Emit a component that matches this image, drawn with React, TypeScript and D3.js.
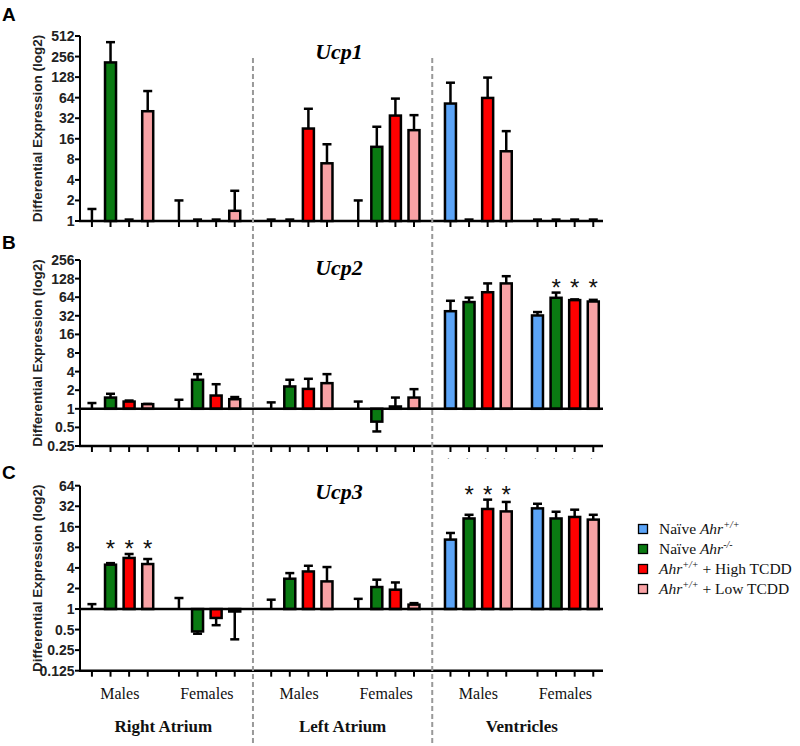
import React from "react";
import * as d3 from "d3";

const regions = ["Right Atrium", "Left Atrium", "Ventricles"];
const sexes = ["Males", "Females"];
const groupKeys = ["naiveWT", "naiveKO", "highTCDD", "lowTCDD"];
const groupColors = ["#5ba4f7", "#0a7a12", "#ff0000", "#f9a2a5"];

// order: RA-M(4), RA-F(4), LA-M(4), LA-F(4), V-M(4), V-F(4)
const ucp1Mean = [1, 210, 1, 40.5, 1, 1, 1, 1.41, 1, 1, 22.6, 7, 1, 12.2, 35, 21.4, 52.5, 1, 63.4, 10.5, 1, 1, 1, 1];
const ucp1Err = [1.5, 416, 1.05, 80, 2.0, 1.05, 1.05, 2.77, 1.05, 1.05, 44, 13.3, 2, 24, 62, 35.5, 106, 1.05, 126, 20.7, 1.05, 1.05, 1.05, 1.05];
const ucp1Stars: number[] = [];
const ucp1Ticks = [1, 2, 4, 8, 16, 32, 64, 128, 256, 512];

const ucp2Mean = [1, 1.52, 1.31, 1.19, 1, 2.95, 1.64, 1.43, 1, 2.3, 2.1, 2.6, 1, 0.62, 1.09, 1.52, 38, 53.4, 77, 107, 32.4, 62.6, 57.4, 54.5];
const ucp2Err = [1.24, 1.75, 1.36, 1.2, 1.4, 3.64, 2.5, 1.55, 1.27, 2.95, 3.06, 3.64, 1.31, 0.43, 1.52, 2.08, 56, 63, 107, 140, 36.8, 76, 59, 58];
const ucp2Stars = [21, 22, 23];
const ucp2Ticks = [0.25, 0.5, 1, 2, 4, 8, 16, 32, 64, 128, 256];

const ucp3Mean = [1, 4.46, 5.6, 4.56, 1, 0.47, 0.74, 0.92, 1, 2.78, 3.55, 2.54, 1, 2.1, 1.92, 1.16, 10.4, 21.2, 29.2, 26.9, 29.8, 21.2, 22.3, 20.4];
const ucp3Err = [1.18, 4.7, 6.4, 5.4, 1.45, 0.435, 0.58, 0.36, 1.37, 3.36, 4.3, 4.12, 1.41, 2.69, 2.45, 1.22, 13, 24, 40, 37, 34.8, 26.6, 28.5, 24];
const ucp3Stars = [1, 2, 3, 17, 18, 19];
const ucp3Ticks = [0.125, 0.25, 0.5, 1, 2, 4, 8, 16, 32, 64];

const legendItems = [
  { pre: "Naïve ", gene: "Ahr", sup: "+/+", post: "" },
  { pre: "Naïve ", gene: "Ahr", sup: "-/-", post: "" },
  { pre: "", gene: "Ahr", sup: "+/+", post: " + High TCDD" },
  { pre: "", gene: "Ahr", sup: "+/+", post: " + Low TCDD" },
];

const SANS = "'Liberation Sans', Arial, sans-serif";
const SERIF = "'Liberation Serif', 'Times New Roman', serif";

const xRegion = d3.scaleBand<string>().domain(regions).range([73.7, 611.5]).padding(0);
const xSex = d3.scaleBand<string>().domain(sexes).range([0, xRegion.bandwidth()]).paddingInner(0).paddingOuter(0.03);
const xBar = d3.scaleBand<string>().domain(groupKeys).range([0, xSex.bandwidth()]).paddingInner(0).paddingOuter(0.34);

function barX(i: number) {
  const r = regions[Math.floor(i / 8)];
  const s = sexes[Math.floor((i % 8) / 4)];
  const g = groupKeys[i % 4];
  return (xRegion(r) as number) + (xSex(s) as number) + (xBar(g) as number) + xBar.bandwidth() / 2;
}
function groupCenter(r: string, s: string) {
  return (xRegion(r) as number) + (xSex(s) as number) + xSex.bandwidth() / 2;
}

const AXIS_X = 80;
const AXIS_END = 603;

type PanelCfg = {
  letter: string; letterY: number; title: string; titleY: number;
  mean: number[]; err: number[]; stars: number[]; ticks: number[];
  top: number; bottom: number; dots?: boolean;
};

const panels: PanelCfg[] = [
  { letter: "A", letterY: 21, title: "Ucp1", titleY: 59, mean: ucp1Mean, err: ucp1Err, stars: ucp1Stars, ticks: ucp1Ticks, top: 36, bottom: 221 },
  { letter: "B", letterY: 249, title: "Ucp2", titleY: 275, mean: ucp2Mean, err: ucp2Err, stars: ucp2Stars, ticks: ucp2Ticks, top: 260, bottom: 446, dots: true },
  { letter: "C", letterY: 479, title: "Ucp3", titleY: 499, mean: ucp3Mean, err: ucp3Err, stars: ucp3Stars, ticks: ucp3Ticks, top: 485.7, bottom: 670.7 },
];

function Panel({ p }: { p: PanelCfg }) {
  const y = d3.scaleLog().base(2).domain([p.ticks[0], p.ticks[p.ticks.length - 1]]).range([p.bottom, p.top]);
  const y1 = y(1);
  const idx = d3.range(p.mean.length);
  const starEls: React.ReactNode[] = [];
  for (let gi = 0; gi < 6; gi++) {
    const inG = p.stars.filter((i) => Math.floor(i / 4) === gi);
    if (!inG.length) continue;
    const minY = d3.min(inG, (i) => y(p.err[i])) as number;
    inG.forEach((i) => {
      starEls.push(
        <text key={"s" + i} x={barX(i)} y={minY - 10 + 13} textAnchor="middle" fontFamily={SANS} fontSize={24} fill="#111">*</text>
      );
    });
  }
  return (
    <g>
      <text x={2} y={p.letterY} fontFamily={SANS} fontWeight="bold" fontSize={19} fill="#000">{p.letter}</text>
      <text x={339} y={p.titleY} textAnchor="middle" fontFamily={SERIF} fontStyle="italic" fontWeight="bold" fontSize={22} fill="#000">{p.title}</text>
      <line x1={AXIS_X} x2={AXIS_X} y1={p.top} y2={p.bottom} stroke="#000" strokeWidth={2} />
      {p.ticks.map((t) => (
        <g key={t}>
          <line x1={AXIS_X - 5} x2={AXIS_X} y1={y(t)} y2={y(t)} stroke="#000" strokeWidth={2} />
          <text x={AXIS_X - 5.5} y={y(t) + 5} textAnchor="end" fontFamily={SANS} fontWeight="bold" fontSize={14} fill="#222">{String(t)}</text>
        </g>
      ))}
      <line x1={AXIS_X - 1} x2={AXIS_END} y1={p.bottom} y2={p.bottom} stroke="#000" strokeWidth={2.5} />
      {idx.map((i) => (
        <line key={"t" + i} x1={barX(i)} x2={barX(i)} y1={p.bottom} y2={p.bottom + 6} stroke="#000" strokeWidth={2} />
      ))}
      {p.dots && idx.filter((i) => i >= 16).map((i) => (
        <text key={"d" + i} x={barX(i) - 2} y={p.bottom + 13} textAnchor="middle" fontFamily={SANS} fontSize={8} fill="#444">.</text>
      ))}
      {idx.map((i) => {
        const cx = barX(i);
        const yv = y(p.mean[i]);
        const ye = y(p.err[i]);
        return (
          <g key={"e" + i}>
            <line x1={cx} x2={cx} y1={yv} y2={ye} stroke="#000" strokeWidth={2.5} />
            <line x1={cx - 4.5} x2={cx + 4.5} y1={ye} y2={ye} stroke="#000" strokeWidth={2.5} />
          </g>
        );
      })}
      {idx.map((i) => {
        const v = p.mean[i];
        if (v === 1) return null;
        const cx = barX(i);
        const yv = y(v);
        return (
          <rect key={"b" + i} x={cx - 5.5} width={11} y={Math.min(yv, y1)} height={Math.abs(yv - y1)}
            fill={groupColors[i % 4]} stroke="#000" strokeWidth={2.5} />
        );
      })}
      {p.ticks[0] < 1 && <line x1={AXIS_X} x2={AXIS_END} y1={y1} y2={y1} stroke="#000" strokeWidth={2.5} />}
      {starEls}
      <text transform={`translate(42,${(p.top + p.bottom) / 2}) rotate(-90)`} textAnchor="middle" fontFamily={SANS} fontWeight="bold" fontSize={13.5} fill="#222">
        Differential Expression (log2)
      </text>
    </g>
  );
}

export default function App() {
  const dividers = regions.slice(1).map((r) => xRegion(r) as number);
  return (
    <svg width={800} height={746} style={{ position: "absolute", left: 0, top: 0, display: "block", background: "#fff" }}>
      <rect x={0} y={0} width={800} height={746} fill="#fff" />
      {panels.map((p) => <Panel key={p.letter} p={p} />)}
      {regions.map((r) => (
        <g key={r}>
          {sexes.map((s) => (
            <text key={s} x={groupCenter(r, s)} y={699} textAnchor="middle" fontFamily={SERIF} fontSize={16} fill="#111">{s}</text>
          ))}
          <text x={(xRegion(r) as number) + xRegion.bandwidth() / 2} y={732} textAnchor="middle" fontFamily={SERIF} fontWeight="bold" fontSize={17} fill="#111">{r}</text>
        </g>
      ))}
      {dividers.map((x, k) => (
        <line key={"dv" + k} x1={x} x2={x} y1={58} y2={746} stroke="#999" strokeWidth={2} strokeDasharray="5,3" />
      ))}
      {legendItems.map((it, k) => {
        const cy = 529 + k * 20;
        return (
          <g key={"lg" + k}>
            <rect x={638.5} y={cy - 4.5} width={9} height={9} fill={groupColors[k]} stroke="#000" strokeWidth={1.3} />
            <text x={659} y={cy + 5} fontFamily={SERIF} fontSize={15.5} fill="#111">
              {it.pre}
              <tspan fontStyle="italic">{it.gene}</tspan>
              <tspan fontStyle="italic" fontSize={10} dy={-6}>{it.sup}</tspan>
              <tspan dy={6}>{it.post}</tspan>
            </text>
          </g>
        );
      })}
    </svg>
  );
}
